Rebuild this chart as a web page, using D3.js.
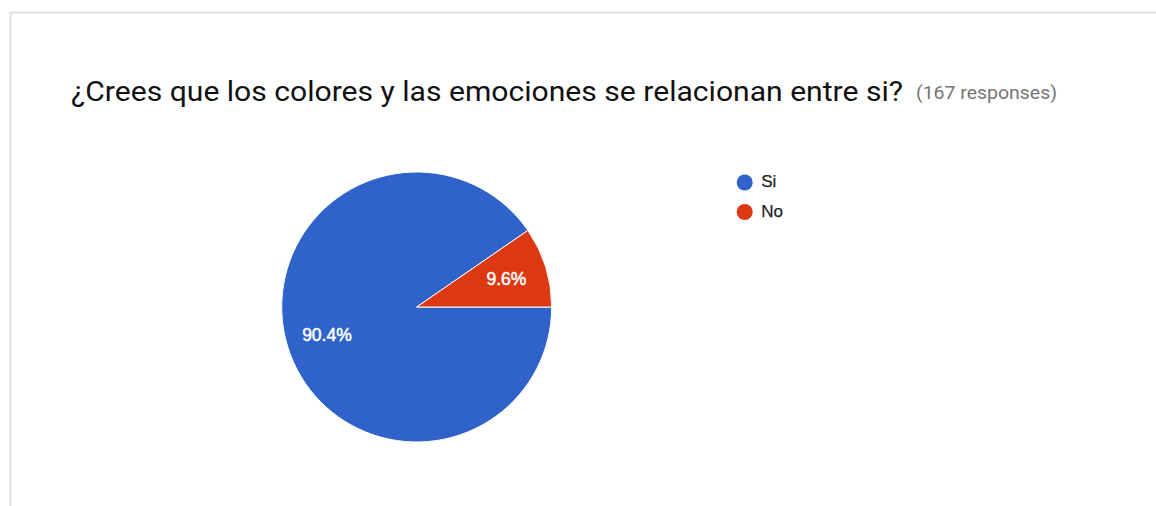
<!DOCTYPE html>
<html>
<head>
<meta charset="utf-8">
<script src="https://cdn.jsdelivr.net/npm/d3@7"></script>
<style>
  html, body { margin: 0; padding: 0; background: #fff; }
  svg { display: block; }
</style>
</head>
<body>
<script>
// Survey answers and their shares
const categories = ["Si", "No"];
const shares = [90.4, 9.6];
const colors = ["#2f63ca", "#dc3912"];
const titleText = "¿Crees que los colores y las emociones se relacionan entre si?";
const responsesText = "(167 responses)";

const W = 1156, H = 506;
const svg = d3.select("body").append("svg").attr("width", W).attr("height", H);

// Card outline (top and left edges visible)
svg.append("path")
  .attr("d", `M10.5,${H} L10.5,12.5 L${W},12.5`)
  .attr("fill", "none")
  .attr("stroke", "#e0e0e0")
  .attr("stroke-width", 2);

// Title
svg.append("text")
  .attr("x", 71).attr("y", 101)
  .attr("font-family", "Roboto, sans-serif")
  .attr("font-size", 27)
  .attr("fill", "#111")
  .attr("textLength", 832)
  .attr("lengthAdjust", "spacingAndGlyphs")
  .text(titleText);
svg.append("text")
  .attr("x", 916).attr("y", 99)
  .attr("font-family", "Roboto, sans-serif")
  .attr("font-size", 19)
  .attr("fill", "#757575")
  .attr("textLength", 141)
  .attr("lengthAdjust", "spacingAndGlyphs")
  .text(responsesText);

// Pie
const cx = 416.7, cy = 307, R = 135;
const pie = d3.pie().sort(null)
  .startAngle(Math.PI / 2).endAngle(Math.PI / 2 + 2 * Math.PI)
  .value(d => d);
const arcs = pie(shares);
const arc = d3.arc().innerRadius(0).outerRadius(R);
const labelArc = d3.arc().innerRadius(94).outerRadius(94);

const g = svg.append("g").attr("transform", `translate(${cx},${cy})`);
g.selectAll("path.slice").data(arcs).join("path")
  .attr("class", "slice")
  .attr("d", arc)
  .attr("fill", (d, i) => colors[i])
  .attr("stroke", "#fff")
  .attr("stroke-width", 1);

g.selectAll("text.lbl").data(arcs).join("text")
  .attr("class", "lbl")
  .attr("transform", d => `translate(${labelArc.centroid(d)})`)
  .attr("text-anchor", "middle")
  .attr("dy", "0.36em")
  .attr("font-family", "Arial, 'Liberation Sans', sans-serif")
  .attr("font-size", 17.5)
  .attr("fill", "#fff")
  .attr("stroke", "#fff")
  .attr("stroke-width", 0.5)
  .text(d => d.data.toFixed(1) + "%");

// Legend
const lg = svg.append("g").attr("transform", "translate(744.7,182.5)");
const items = lg.selectAll("g").data(categories).join("g")
  .attr("transform", (d, i) => `translate(0,${i * 29.5})`);
items.append("circle").attr("r", 8).attr("fill", (d, i) => colors[i]);
items.append("text")
  .attr("x", 16.5).attr("dy", "0.27em")
  .attr("font-family", "Arial, 'Liberation Sans', sans-serif")
  .attr("font-size", 17)
  .attr("fill", "#222")
  .attr("stroke", "#222")
  .attr("stroke-width", 0.25)
  .text(d => d);
</script>
</body>
</html>
